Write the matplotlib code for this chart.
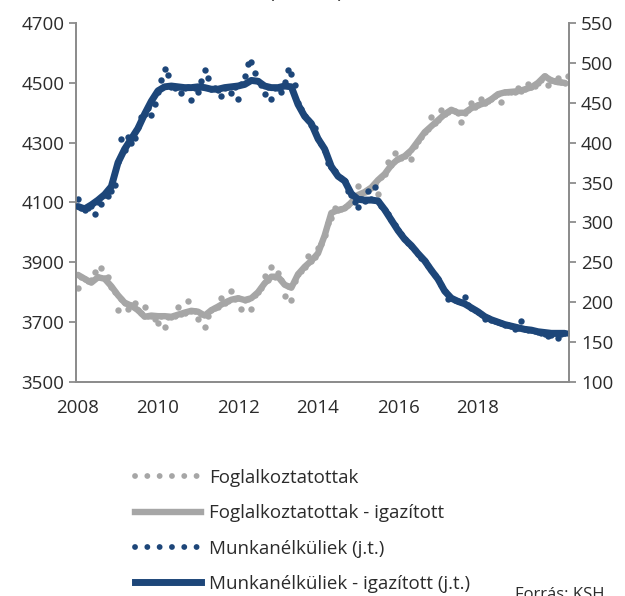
import numpy as np
import matplotlib
matplotlib.use("Agg")
import matplotlib.pyplot as plt
from matplotlib.lines import Line2D

plt.rcParams['font.family'] = ['Open Sans', 'DejaVu Sans']

# Foglalkoztatottak (ezer fő), havi adatok 2008 januártól
emp_raw = [
    3813, 3850, 3845, 3838, 3840, 3869, 3850, 3882, 3846, 3852, 3818, 3800,
    3741, 3778, 3765, 3743, 3758, 3765, 3742, 3730, 3752, 3720, 3722, 3712,
    3696, 3720, 3683, 3718, 3718, 3722, 3749, 3728, 3732, 3772, 3738, 3736,
    3710, 3728, 3683, 3720, 3740, 3746, 3752, 3780, 3765, 3770, 3805, 3778,
    3780, 3743, 3774, 3778, 3745, 3790, 3800, 3815, 3855, 3840, 3885, 3852,
    3865, 3840, 3788, 3820, 3774, 3838, 3860, 3872, 3885, 3921, 3905, 3918,
    3947, 3960, 3990, 4030, 4047, 4080, 4075, 4078, 4086, 4090, 4100, 4112,
    4155, 4130, 4135, 4142, 4150, 4162, 4128, 4185, 4195, 4236, 4225, 4264,
    4245, 4250, 4255, 4265, 4244, 4290, 4305, 4320, 4335, 4345, 4385, 4365,
    4375, 4409, 4395, 4402, 4410, 4405, 4400, 4368, 4400, 4408, 4432, 4420,
    4425, 4447, 4432, 4438, 4445, 4455, 4462, 4437, 4468, 4470, 4470, 4470,
    4484, 4472, 4478, 4496, 4485, 4490, 4500, 4510, 4522, 4493, 4508, 4505,
    4517, 4502, 4500, 4523,
]
# igazított, kéthavonta
emp_adj = [
    3858, 3845, 3832, 3850, 3845, 3820, 3790, 3765, 3755, 3740, 3718, 3722,
    3720, 3720, 3718, 3725, 3732, 3738, 3735, 3722, 3740, 3752, 3765, 3775,
    3780, 3774, 3780, 3800, 3830, 3852, 3852, 3825, 3815, 3860, 3885, 3905,
    3930, 3990, 4065, 4075, 4080, 4100, 4125, 4135, 4150, 4175, 4195, 4225,
    4245, 4255, 4275, 4305, 4335, 4355, 4375, 4395, 4410, 4400, 4400, 4415,
    4425, 4432, 4445, 4462, 4468, 4470, 4472, 4478, 4485, 4500, 4522, 4508,
    4502, 4500,
]

# Munkanélküliek (ezer fő), havi adatok
unemp_raw = [
    329, 318, 316, 318, 321, 311, 326, 323, 334, 333, 340, 347,
    376, 404, 391, 407, 400, 406, 420, 432, 436, 444, 435, 449,
    463, 478, 492, 485, 470, 468, 470, 462, 468, 470, 453, 469,
    464, 477, 491, 481, 467, 468, 466, 459, 468, 470, 462, 470,
    455, 473, 484, 499, 501, 487, 477, 472, 461, 470, 455, 468,
    469, 463, 476, 491, 486, 472, 450, 442, 433, 428, 422, 418,
    405, 398, 390, 375, 370, 365, 358, 356, 352, 340, 335, 326,
    319, 330, 327, 339, 329, 344, 327, 321, 316, 311, 303, 297,
    290, 286, 279, 274, 271, 266, 261, 256, 252, 246, 240, 234,
    229, 222, 214, 204, 205, 203, 201, 200, 206, 196, 193, 190,
    188, 185, 179, 180, 178, 177, 175, 174, 172, 171, 170, 166,
    168, 177, 166, 165, 165, 164, 163, 162, 160, 158, 159, 161,
    155, 160, 161, 161,
]
unemp_adj = [
    320, 317, 322, 328, 335, 345, 375, 392, 405, 418, 436, 452,
    465, 470, 471, 470, 469, 469, 470, 469, 467, 467, 469, 470,
    471, 473, 478, 477, 471, 469, 469, 471, 470, 448, 433, 424,
    405, 392, 370, 358, 352, 336, 329, 328, 328, 327, 316, 303,
    290, 279, 271, 261, 252, 240, 229, 214, 205, 201, 198, 193,
    188, 182, 178, 175, 172, 170, 168, 166, 165, 163, 162, 161,
    161, 161,
]

year_ticks = [2008, 2010, 2012, 2014, 2016, 2018]

BLUE = '#1d4679'
GREY = '#a6a6a6'
TXT = '#2b2b2b'
SPINE = '#8c8c8c'

x_raw = 2008 + np.arange(len(emp_raw)) / 12
x_adj = 2008 + np.arange(len(emp_adj)) / 6

fig = plt.figure(figsize=(6.25, 5.96), dpi=100)
ax = fig.add_axes([0.1216, 0.3591, 0.7888, 0.6023])
ax2 = ax.twinx()

ax.plot(x_raw, emp_raw, 'o', color=GREY, ms=4.6, mew=0, zorder=2)
ax.plot(x_adj, emp_adj, '-', color=GREY, lw=4.6, solid_capstyle='round', zorder=3)
ax2.plot(x_raw, unemp_raw, 'o', color=BLUE, ms=4.6, mew=0, zorder=2)
ax2.plot(x_adj, unemp_adj, '-', color=BLUE, lw=5.0, solid_capstyle='round', zorder=3)

ax.set_xlim(2007.95, 2020.275)
ax.set_ylim(3500, 4700)
ax2.set_ylim(100, 550)
ax.set_yticks(np.arange(3500, 4701, 200))
ax2.set_yticks(np.arange(100, 551, 50))
ax.set_xticks(year_ticks)

for a in (ax, ax2):
    a.spines['top'].set_visible(False)
    for s in ('left', 'right', 'bottom'):
        a.spines[s].set_color(SPINE)
        a.spines[s].set_linewidth(1.3)
    a.tick_params(colors=SPINE, labelcolor=TXT, labelsize=13.5, length=5, width=1.3)
ax.tick_params(axis='x', length=0, pad=12)

fig.text(0.49, 1.012, '(ezer fő)', ha='center', va='center', fontsize=14, color=TXT)

handles = [
    Line2D([], [], color=GREY, lw=4.2, dashes=(0.01, 2.1), dash_capstyle='round'),
    Line2D([], [], color=GREY, lw=4.6),
    Line2D([], [], color=BLUE, lw=4.2, dashes=(0.01, 2.1), dash_capstyle='round'),
    Line2D([], [], color=BLUE, lw=5.0),
]
labels = ['Foglalkoztatottak', 'Foglalkoztatottak - igazított',
          'Munkanélküliek (j.t.)', 'Munkanélküliek - igazított (j.t.)']
fig.legend(handles, labels, loc='upper left', bbox_to_anchor=(0.216, 0.213),
           frameon=False, fontsize=13.5, handlelength=3.5, handletextpad=0.43,
           labelspacing=0.92, labelcolor=TXT, borderaxespad=0, borderpad=0)

fig.text(0.824, 0.002, 'Forrás: KSH', ha='left', va='center', fontsize=12, color=TXT)

fig.savefig('out.png', dpi=100)
